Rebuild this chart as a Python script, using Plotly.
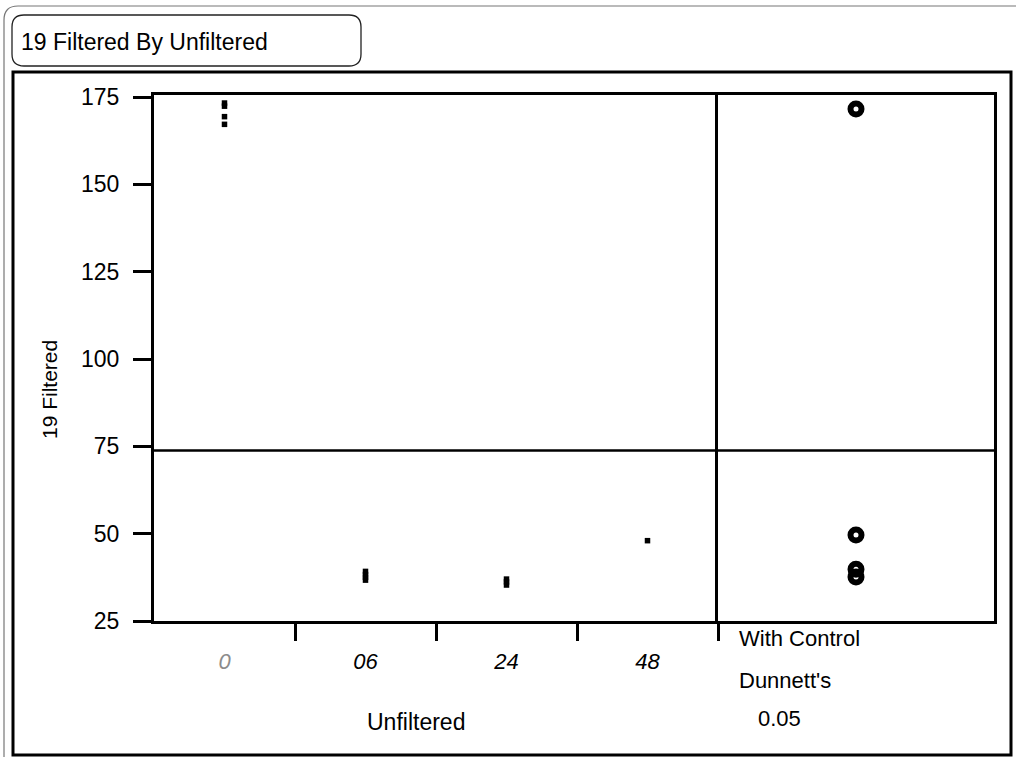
import plotly.graph_objects as go

# ---------------- data ----------------
categories = ["0", "06", "24", "48"]
y_0 = [173.3, 172.4, 169.4, 167.2]
y_06 = [39.2, 38.3, 37.5, 36.7]
y_24 = [37.0, 36.2, 35.3]
y_48 = [48.0]
circle_centers = [171.6, 49.6, 39.8, 37.6]
grand_mean = 73.8
y_ticks = [25, 50, 75, 100, 125, 150, 175]
title_text = "19 Filtered By Unfiltered"
x_title = "Unfiltered"
y_title = "19 Filtered"
right_labels = ["With Control", "Dunnett's", "0.05"]

# ---------------- geometry ----------------
W, H = 1016, 757
ML, MR, MT, MB = 154, 22, 95, 136
PW = W - ML - MR
PH = H - MT - MB
SPLIT = (718 - ML) / PW
FONT = "Liberation Sans, Arial, sans-serif"


def px(xp):
    return (xp - ML) / PW


def py(yp):
    return (H - MB - yp) / PH


def rrect_path(x0, y0, x1, y1, r):
    pts = [
        ("M", (x0 + r, y0)),
        ("L", (x1 - r, y0)),
        ("Q", (x1, y0), (x1, y0 + r)),
        ("L", (x1, y1 - r)),
        ("Q", (x1, y1), (x1 - r, y1)),
        ("L", (x0 + r, y1)),
        ("Q", (x0, y1), (x0, y1 - r)),
        ("L", (x0, y0 + r)),
        ("Q", (x0, y0), (x0 + r, y0)),
    ]
    s = ""
    for p in pts:
        cmd = p[0]
        coords = " ".join(f"{px(a):.5f},{py(b):.5f}" for a, b in p[1:])
        s += f"{cmd} {coords} "
    return s + "Z"


fig = go.Figure()

groups = [y_0, y_06, y_24, y_48]
for i, ys in enumerate(groups):
    fig.add_trace(go.Scatter(
        x=[i] * len(ys), y=ys, mode="markers", xaxis="x", yaxis="y",
        marker=dict(symbol="square", size=5.5, color="black", line=dict(width=0)),
        showlegend=False, hoverinfo="y"))

fig.add_trace(go.Scatter(
    x=[0.5] * len(circle_centers), y=circle_centers, mode="markers",
    xaxis="x2", yaxis="y2",
    marker=dict(symbol="circle-open", size=11, color="black",
                line=dict(width=6, color="black")),
    showlegend=False, hoverinfo="y"))

ticktext = []
for i, c in enumerate(categories):
    if i == 0:
        ticktext.append(f"<span style='color:#8c8c8c'><i>{c}</i></span>")
    else:
        ticktext.append(f"<i>{c}</i>")

yr = [25, 175.6]

fig.update_layout(
    width=W, height=H,
    margin=dict(l=ML, r=MR, t=MT, b=MB, pad=0),
    paper_bgcolor="white", plot_bgcolor="white",
    font=dict(family=FONT, color="black", size=22),
    showlegend=False,
    xaxis=dict(
        domain=[0, SPLIT], range=[-0.5, 3.5], anchor="y",
        showline=True, linewidth=3, linecolor="black", mirror=True,
        showgrid=False, zeroline=False,
        tickmode="array", tickvals=list(range(len(categories))), ticktext=ticktext,
        ticks="", ticklabelstandoff=19,
        tickfont=dict(family=FONT, size=22, color="black"),
        minor=dict(tickmode="array", tickvals=[0.5, 1.5, 2.5, 3.5], ticks="outside",
                   ticklen=17, tickwidth=3, tickcolor="black", showgrid=False),
    ),
    xaxis2=dict(
        domain=[SPLIT, 1], range=[0, 1], anchor="y2",
        showline=True, linewidth=3, linecolor="black", mirror=True,
        showgrid=False, zeroline=False, showticklabels=False, ticks="",
    ),
    yaxis=dict(
        range=yr, anchor="x",
        showline=True, linewidth=3, linecolor="black", mirror=False,
        showgrid=False, zeroline=False,
        tickmode="array", tickvals=y_ticks,
        ticks="outside", ticklen=18, tickwidth=3, tickcolor="black",
        ticklabelstandoff=9,
        tickfont=dict(family=FONT, size=23, color="black"),
    ),
    yaxis2=dict(
        range=yr, anchor="x2", matches="y",
        showline=True, linewidth=3, linecolor="black", mirror=True,
        showgrid=False, zeroline=False, showticklabels=False, ticks="",
    ),
)

shapes = []
# grand mean line across both panels
shapes.append(dict(type="line", xref="paper", yref="y", x0=0, x1=1,
                   y0=grand_mean, y1=grand_mean,
                   line=dict(color="black", width=2.5)))
# outer report frame (grey)
shapes.append(dict(type="path", xref="paper", yref="paper",
                   path=rrect_path(4, 6, 1030, 790, 14),
                   line=dict(color="#777777", width=1.2)))
# inner black frame
shapes.append(dict(type="path", xref="paper", yref="paper",
                   path=f"M {px(13):.5f},{py(72):.5f} L {px(1011):.5f},{py(72):.5f} "
                        f"L {px(1011):.5f},{py(755):.5f} L {px(13):.5f},{py(755):.5f} Z",
                   line=dict(color="black", width=3)))
# title box
shapes.append(dict(type="path", xref="paper", yref="paper",
                   path=rrect_path(12, 15, 361, 66, 12),
                   line=dict(color="#222222", width=1.3)))
fig.update_layout(shapes=shapes)

ann = []
ann.append(dict(text=title_text, xref="paper", yref="paper", x=px(19), y=py(42),
                xanchor="left", yanchor="middle", showarrow=False,
                font=dict(family=FONT, size=23, color="black")))
ann.append(dict(text=x_title, xref="paper", yref="paper", x=px(416), y=py(722),
                xanchor="center", yanchor="middle", showarrow=False,
                font=dict(family=FONT, size=23, color="black")))
ann.append(dict(text=y_title, xref="paper", yref="paper", x=px(49), y=py(390),
                xanchor="center", yanchor="middle", showarrow=False, textangle=-90,
                font=dict(family=FONT, size=21, color="black")))
rl_pos = [(737, 638), (737, 680), (756, 718)]
for txt, (xp, yp) in zip(right_labels, rl_pos):
    ann.append(dict(text=txt, xref="paper", yref="paper", x=px(xp), y=py(yp),
                    xanchor="left", yanchor="middle", showarrow=False,
                    font=dict(family=FONT, size=22, color="black")))
fig.update_layout(annotations=ann)

fig.write_html("out.html", config={"displayModeBar": False},
               post_script="document.body.style.margin='0px';")
